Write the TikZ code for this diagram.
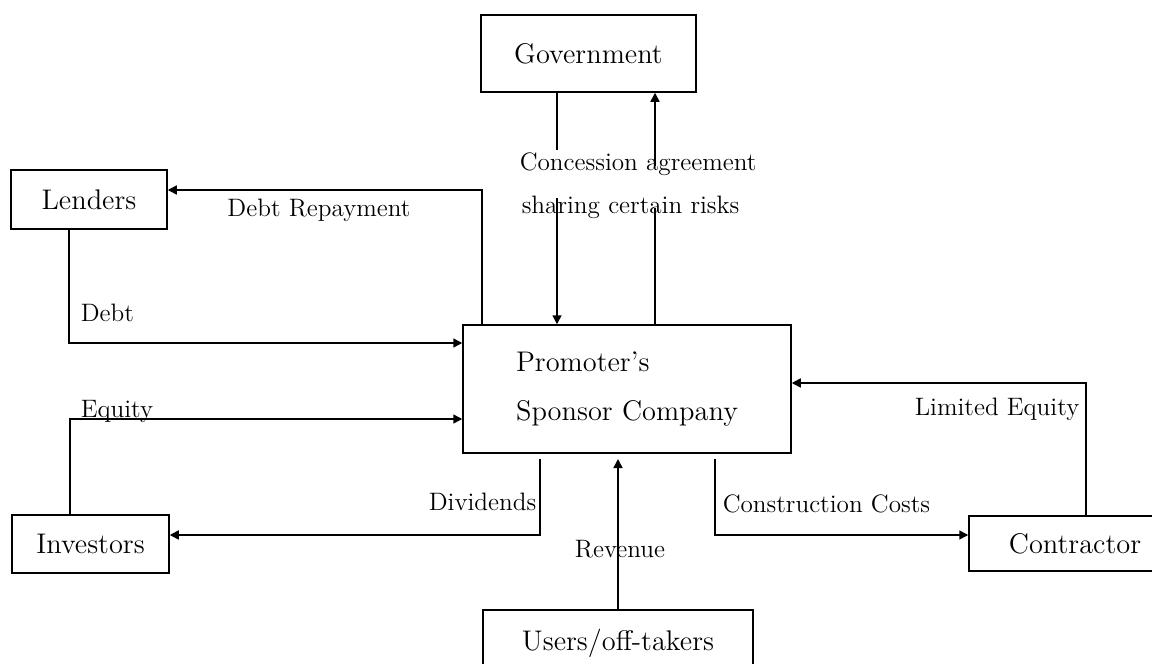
\documentclass[tikz,border=0pt]{standalone}
\usepackage{amsmath, amssymb, graphicx, xcolor}
\usetikzlibrary{arrows.meta}

\begin{document}
\begin{tikzpicture}[x=0.5pt, y=-0.5pt, line width=0.75pt,
  box/.style={draw, inner sep=0pt, font=\fontsize{14.2}{16}\selectfont},
  lbl/.style={inner sep=0pt, font=\fontsize{12.6}{14}\selectfont},
  flow/.style={-{Triangle[length=4.5pt,width=4.5pt]}}]
\useasboundingbox (0,0) rectangle (1152,664);

% boxes
\node[box, minimum width=107.5pt, minimum height=38.5pt] (gov) at (588.5,53.5) {Government};
\node[box, minimum width=78pt, minimum height=29.5pt] (len) at (89,199.5) {Lenders};
\node[box, minimum width=78.5pt, minimum height=29pt] (inv) at (90.5,544) {Investors};
\node[box, minimum width=164pt, minimum height=64pt, align=left,
  font=\fontsize{14.2}{24.5}\selectfont] (prom) at (627,389) {Promoter's\\Sponsor Company};
\node[box, minimum width=106pt, minimum height=27.5pt] (con) at (1075,543.5) {Contractor};
\node[box, minimum width=135pt, minimum height=33pt] (usr) at (618,643) {Users/off-takers};

% labels
\node[lbl, anchor=base west] (conc) at (519,170) {Concession agreement};
\node[lbl, anchor=base west] (shr) at (521,213) {sharing certain risks};
\node[lbl, anchor=base] (drep) at (319,216) {Debt Repayment};
\node[lbl, anchor=base west] (dbt) at (80,321) {Debt};
\node[lbl, anchor=base west] (equ) at (80,417) {Equity};
\node[lbl, anchor=base east] (divd) at (537,510) {Dividends};
\node[lbl, anchor=base] (rev) at (620,557) {Revenue};
\node[lbl, anchor=base west] (ccost) at (722,512) {Construction Costs};
\node[lbl, anchor=base east] (leq) at (1080,415) {Limited Equity};

% bends and breaks
\coordinate (g1a) at (557,150);
\coordinate (g1b) at (557,198);
\coordinate (g2a) at (655,166);
\coordinate (g2b) at (655,208);
\coordinate (dr) at (482,190);
\coordinate (db) at (69,343);
\coordinate (eq) at (70,419);
\coordinate (gap) at (627,459);
\coordinate (dv) at (540,535);
\coordinate (cc) at (715,535);
\coordinate (le) at (1086,383);

% government
\draw (gov.south -| g1a) -- (g1a);
\draw[flow] (g1b) -- (g1b |- prom.north);
\draw (g2b |- prom.north) -- (g2b);
\draw[flow] (g2a) -- (g2a |- gov.south);

% lenders
\draw[flow] (dr |- prom.north) -- (dr) -- (dr -| len.east);
\draw[flow] (len.south -| db) -- (db) -- (db -| prom.west);

% investors
\draw[flow] (inv.north -| eq) -- (eq) -- (eq -| prom.west);
\draw[flow] (dv |- gap) -- (dv) -- (dv -| inv.east);

% users
\draw[flow] (usr.north) -- (usr.north |- gap);

% contractor
\draw[flow] (cc |- gap) -- (cc) -- (cc -| con.west);
\draw[flow] (con.north -| le) -- (le) -- (le -| prom.east);
\end{tikzpicture}
\end{document}
